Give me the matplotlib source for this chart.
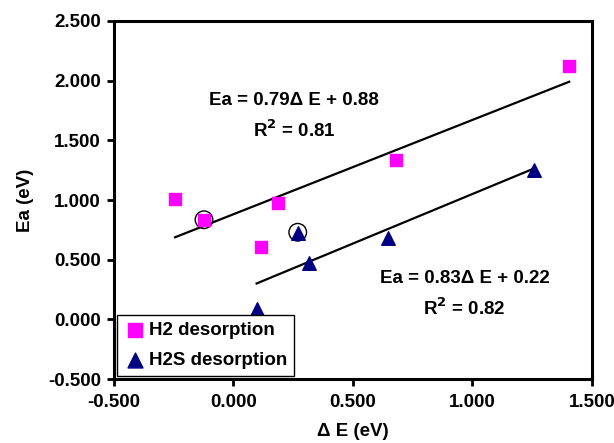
import matplotlib
matplotlib.use("Agg")
import matplotlib.pyplot as plt
from matplotlib.ticker import FormatStrFormatter
import numpy as np

plt.rcParams['font.family'] = ['Liberation Sans', 'DejaVu Sans']
plt.rcParams['font.weight'] = 'bold'
plt.rcParams['axes.unicode_minus'] = False

# H2 desorption points
h2_dE = [-0.243, -0.122, 0.188, 0.116, 0.682, 1.405]
h2_Ea = [1.010, 0.835, 0.974, 0.607, 1.337, 2.119]

# H2S desorption points
h2s_dE = [0.098, 0.318, 0.270, 0.649, 1.260]
h2s_Ea = [0.085, 0.475, 0.720, 0.680, 1.255]

# circled points
circ_dE = [-0.122, 0.270]
circ_Ea = [0.835, 0.730]

# linear fits (slope, intercept, r2)
fit_h2 = [0.79, 0.88, 0.81]
fit_h2s = [0.83, 0.22, 0.82]

fig = plt.figure(figsize=(6.14, 4.43), dpi=100)
ax = fig.add_axes([0.185, 0.144, 0.779, 0.809])

# trend lines over the data range
x1 = np.array([min(h2_dE), max(h2_dE)])
ax.plot(x1, fit_h2[0] * x1 + fit_h2[1], color='black', lw=1.6, zorder=2)
x2 = np.array([min(h2s_dE), max(h2s_dE)])
ax.plot(x2, fit_h2s[0] * x2 + fit_h2s[1], color='black', lw=1.6, zorder=2)

ax.scatter(circ_dE, circ_Ea, s=160, facecolors='none', edgecolors='black', linewidths=1.0, zorder=3)
ax.scatter(h2_dE, h2_Ea, marker='s', s=80, color='#FF00FF', label='H2 desorption', zorder=4)
ax.scatter(h2s_dE, h2s_Ea, marker='^', s=95, color='#000080', label='H2S desorption', zorder=4)

fs = 13.5
ax.text(0.254, 1.83, 'Ea = 0.79\u0394 E + 0.88', ha='center', va='center', fontsize=fs, fontweight='bold')
ax.text(0.254, 1.58, 'R$^\\mathbf{2}$ = 0.81', ha='center', va='center', fontsize=fs, fontweight='bold')
ax.text(0.968, 0.343, 'Ea = 0.83\u0394 E + 0.22', ha='center', va='center', fontsize=fs, fontweight='bold')
ax.text(0.968, 0.095, 'R$^\\mathbf{2}$ = 0.82', ha='center', va='center', fontsize=fs, fontweight='bold')

ax.set_xlim(-0.5, 1.5)
ax.set_ylim(-0.5, 2.5)
ax.set_xticks([-0.5, 0.0, 0.5, 1.0, 1.5])
ax.set_yticks([-0.5, 0.0, 0.5, 1.0, 1.5, 2.0, 2.5])
ax.xaxis.set_major_formatter(FormatStrFormatter('%.3f'))
ax.yaxis.set_major_formatter(FormatStrFormatter('%.3f'))
ax.tick_params(direction='out', length=5, width=2, labelsize=fs)
ax.tick_params(axis='x', pad=6)
ax.tick_params(axis='y', pad=4)
for sp in ax.spines.values():
    sp.set_linewidth(2.2)

ax.set_xlabel('\u0394 E (eV)', fontsize=fs, fontweight='bold', labelpad=8)
ax.set_ylabel('Ea (eV)', fontsize=fs, fontweight='bold', labelpad=10)

leg = ax.legend(loc='lower left', bbox_to_anchor=(0.008, 0.01), fontsize=fs, frameon=True,
                fancybox=False, framealpha=1, edgecolor='black', borderpad=0.35,
                handletextpad=0.15, handlelength=1.2, labelspacing=0.7, borderaxespad=0,
                markerscale=1.1)
leg.get_frame().set_linewidth(1.0)

fig.savefig('out.png', dpi=100)
